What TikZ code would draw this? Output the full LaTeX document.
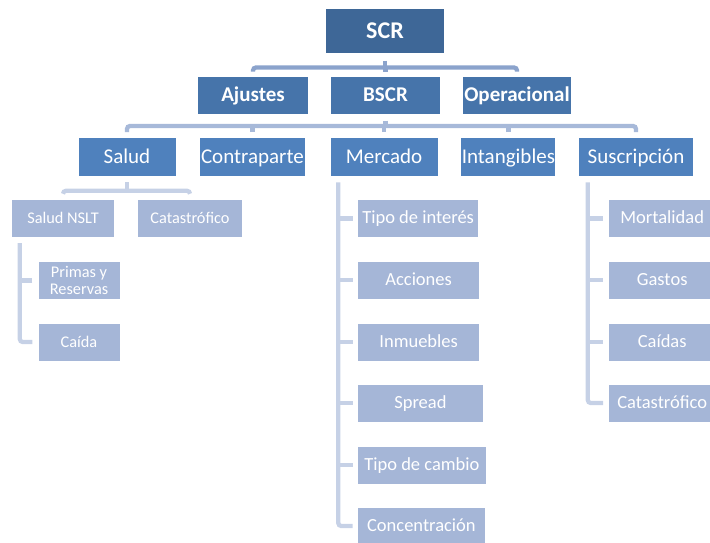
\documentclass[tikz,border=0pt]{standalone}
\usepackage{fontspec}
\setmainfont{Carlito}
\usepackage{tikz}

\definecolor{topblue}{HTML}{3E6797}
\definecolor{midblue}{HTML}{4674AA}
\definecolor{lowblue}{HTML}{4F81BD}
\definecolor{paleblue}{HTML}{A5B6D7}
\definecolor{lineA}{HTML}{8BA3CC}
\definecolor{lineB}{HTML}{A7B9D9}
\definecolor{lineC}{HTML}{C6D1E6}

\tikzset{
  box/.style={rectangle, text=white, inner sep=0pt, align=center, minimum height=37pt},
  rootbox/.style={box, fill=topblue, minimum width=118pt, minimum height=44pt, text height=17pt, text depth=3pt, font=\bfseries\fontsize{24}{28}\selectfont},
  modbox/.style={box, fill=midblue, minimum height=37.6pt, text height=15pt, text depth=3pt, font=\bfseries\fontsize{21}{25}\selectfont},
  riskbox/.style={box, fill=lowblue, minimum height=38pt, text height=15pt, text depth=3pt, font=\fontsize{21}{25}\selectfont},
  subbox/.style={box, fill=paleblue, anchor=west, text height=13.5pt, text depth=2.8pt, font=\fontsize{18.5}{22}\selectfont},
  smallbox/.style={box, fill=paleblue, font=\fontsize{16.3}{17.5}\selectfont},
  oneline/.style={text height=12.5pt, text depth=2.5pt},
  link/.style={line width=4.3pt, rounded corners=3pt},
}

\begin{document}
\begin{tikzpicture}[x=1pt,y=-1pt]
    \useasboundingbox (0,0) rectangle (710,542);
    \clip (0,0) rectangle (710,542);

    % Top levels
    \node[rootbox] (scr) at (385,31.3) {SCR};
    \node[modbox, minimum width=110pt] (ajustes) at (253,95.5) {Ajustes};
    \node[modbox, minimum width=109pt] (bscr) at (385.5,95.5) {BSCR};
    \node[modbox, minimum width=108pt] (oper) at (517,95.5) {Operacional};

    % Risk modules
    \node[riskbox, minimum width=97pt] (salud) at (127,157.2) {Salud};
    \node[riskbox, minimum width=105pt] (contra) at (252.4,157.2) {Contraparte};
    \node[riskbox, minimum width=107pt] (mercado) at (384,157.2) {Mercado};
    \node[riskbox, minimum width=94pt] (intang) at (508.4,157.2) {Intangibles};
    \node[riskbox, minimum width=114pt] (suscr) at (636,157.2) {Suscripción};

    % Salud
    \node[smallbox, oneline, minimum width=102pt] (nslt) at (63,218.5) {Salud NSLT};
    \node[smallbox, oneline, minimum width=104pt] (catsal) at (190,218.5) {Catastrófico};
    \node[smallbox, minimum width=81pt] (primas) at (79,280.5) {Primas y\\Reservas};
    \node[smallbox, oneline, minimum width=81pt] (caida) at (79,342) {Caída};

    % Mercado
    \node[subbox, minimum width=120.5pt] (interes) at (357.7,218.5) {Tipo de interés};
    \node[subbox, minimum width=121.5pt] (acciones) at (357.7,280.3) {Acciones};
    \node[subbox, minimum width=121.5pt] (inmuebles) at (357.7,342) {Inmuebles};
    \node[subbox, minimum width=125pt] (spread) at (357.7,403) {Spread};
    \node[subbox, minimum width=128pt] (cambio) at (357.7,465) {Tipo de cambio};
    \node[subbox, minimum width=127pt] (conc) at (357.7,526) {Concentración};

    % Suscripcion
    \foreach \n/\y/\t in {mort/218.5/Mortalidad, gastos/280.3/Gastos, caidas/342/Caídas, catsus/403/Catastrófico}
        \node[subbox, minimum width=106pt] (\n) at (609,\y) {\t};

    % Links
    \draw[link, lineA] ([yshift=-7pt]scr.south) -- ++(0,8);
    \draw[link, lineA] ([yshift=5pt]ajustes.north) -- ++(0,-4) -| ([yshift=5pt]oper.north);
    \draw[link, lineA] ([yshift=5pt]bscr.north) -- ++(0,-4);

    \draw[link, lineB] ([yshift=-6pt]bscr.south) -- ++(0,6);
    \draw[link, lineB] ([yshift=6pt]salud.north) -- ++(0,-6) -| ([yshift=6pt]suscr.north);
    \foreach \n in {contra,mercado,intang}
        \draw[link, lineB] ([yshift=6pt]\n.north) -- ++(0,-6);

    \draw[link, lineC] ([yshift=-6pt]salud.south) -- ++(0,9);
    \draw[link, lineC] ([yshift=6pt]nslt.north) -- ++(0,-3) -| ([yshift=6pt]catsal.north);
    \draw[link, lineC] ([xshift=8pt,yshift=-6pt]nslt.south west) |- ([xshift=-6pt]caida.west);
    \draw[link, lineC] ([xshift=-6pt]primas.west) -- ++(-13,0);

    \draw[link, lineC] ([xshift=8pt,yshift=-6pt]mercado.south west) |- ([xshift=-5pt]conc.west);
    \foreach \n in {interes,acciones,inmuebles,spread,cambio}
        \draw[link, lineC] ([xshift=-5pt]\n.west) -- ++(-15,0);

    \draw[link, lineC] ([xshift=9pt,yshift=-6pt]suscr.south west) |- ([xshift=-6pt]catsus.west);
    \foreach \n in {mort,gastos,caidas}
        \draw[link, lineC] ([xshift=-6pt]\n.west) -- ++(-15,0);
\end{tikzpicture}
\end{document}
